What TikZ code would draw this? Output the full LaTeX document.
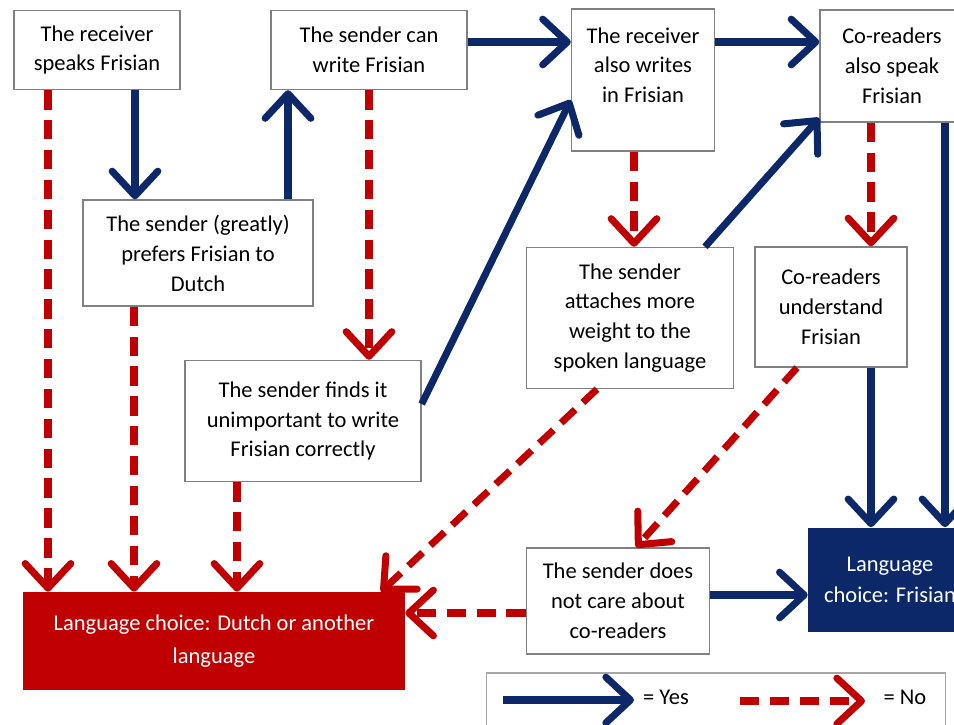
\documentclass[tikz,border=0pt]{standalone}
\usepackage{fontspec}
\setmainfont{Carlito}
\usetikzlibrary{arrows.meta, calc}
\definecolor{yesblue}{RGB}{12,40,105}
\definecolor{nored}{RGB}{192,0,0}

\begin{document}
\begin{tikzpicture}[x=0.02cm, y=-0.02cm,
  every node/.style={font=\fontsize{12.8}{17}\selectfont},
  box/.style={draw=gray, line width=0.8pt, fill=white, align=center, inner sep=2pt},
  yes/.style={draw=yesblue, line width=4pt, -{Straight Barb[length=14pt,width=26pt,round]}},
  no/.style={draw=nored, line width=4pt, dash pattern=on 11pt off 6pt, -{Straight Barb[length=14pt,width=26pt,round]}}]
\useasboundingbox (0,0) rectangle (954,724);
% question boxes
\node[box, minimum width=33.2mm, minimum height=15.8mm] (recv) at (97,50) {The receiver\\speaks Frisian};
\node[box, minimum width=39.2mm, minimum height=15.8mm] (canw) at (369,50) {The sender can\\write Frisian};
\node[box, minimum width=46mm, minimum height=21.2mm] (pref) at (198,253) {The sender (greatly)\\prefers Frisian to\\Dutch};
\node[box, minimum width=28.6mm, minimum height=28.4mm] (alsow) at (643,80) {The receiver\\also writes\\in Frisian\\~};
\node[box, minimum width=28.8mm, minimum height=22.4mm] (coalso) at (892,66) {Co-readers\\also speak\\Frisian};
\node[box, minimum width=41.4mm, minimum height=28.2mm] (attach) at (630,318) {The sender\\attaches more\\weight to the\\spoken language};
\node[box, minimum width=30.4mm, minimum height=24mm] (under) at (831,307) {Co-readers\\understand\\Frisian};
\node[box, minimum width=47.2mm, minimum height=24.2mm] (unimp) at (303,421) {The sender finds it\\unimportant to write\\Frisian correctly};
\node[box, minimum width=36.6mm, minimum height=21.2mm] (nocare) at (618,601) {The sender does\\not care about\\co-readers};
% outcomes
\node[fill=nored, text=white, align=center, minimum width=76.4mm, minimum height=19.6mm] (dutch) at (214,641) {Language choice: Dutch or another\\[2pt]language};
\node[fill=yesblue, text=white, align=center, minimum width=32.8mm, minimum height=21mm] (fris) at (890,580) {Language\\[1pt]choice: Frisian};
% yes arrows
\draw[yes] ($(recv.south)+(38,0)$) coordinate (a) -- (a |- pref.north);
\draw[yes] ($(pref.north)+(90,0)$) coordinate (a) -- (a |- canw.south);
\draw[yes] ($(canw.east)+(0,-8)$) coordinate (a) -- (a -| alsow.west);
\draw[yes] ($(alsow.east)+(0,-38)$) coordinate (a) -- (a -| coalso.west);
\draw[yes] ($(unimp.east)+(0,-17)$) -- ($(alsow.west)+(0,20)$);
\draw[yes] ($(attach.north)+(75,0)$) -- ($(coalso.west)+(0,52)$);
\draw[yes] ($(coalso.south)+(53,0)$) coordinate (a) -- (a |- fris.north);
\draw[yes] ($(under.south)+(40,0)$) coordinate (a) -- (a |- fris.north);
\draw[yes] ($(nocare.east)+(0,-6)$) coordinate (a) -- (a -| fris.west);
% no arrows
\draw[no] ($(recv.south)+(-49,0)$) coordinate (a) -- (a |- dutch.north);
\draw[no] ($(pref.south)+(-64,0)$) coordinate (a) -- (a |- dutch.north);
\draw[no] (canw.south) -- (canw.south |- unimp.north);
\draw[no] ($(unimp.south)+(-66,0)$) coordinate (a) -- (a |- dutch.north);
\draw[no] ($(alsow.south)+(-9,0)$) coordinate (a) -- (a |- attach.north);
\draw[no] ($(coalso.south)+(-21,0)$) coordinate (a) -- (a |- under.north);
\draw[no] ($(under.south)+(-34,0)$) -- ($(nocare.north)+(18,0)$);
\draw[no] ($(attach.south)+(-33,0)$) -- ($(dutch.north)+(167,0)$);
\draw[no] ($(nocare.west)+(0,12)$) coordinate (a) -- (a -| dutch.east);
% legend
\node[draw=gray!70, line width=0.6pt, minimum width=92mm, minimum height=13.2mm] (legend) at (716,706) {};
\coordinate (ys) at (503,700);
\coordinate (ye) at (634,700);
\coordinate (ns) at (740,701);
\coordinate (ne) at (865,701);
\draw[yes] (ys) -- (ye);
\draw[no] (ns) -- (ne);
\node (yeslbl) at (666,697) {= Yes};
\node (nolbl) at (905,697) {= No};
\end{tikzpicture}
\end{document}
